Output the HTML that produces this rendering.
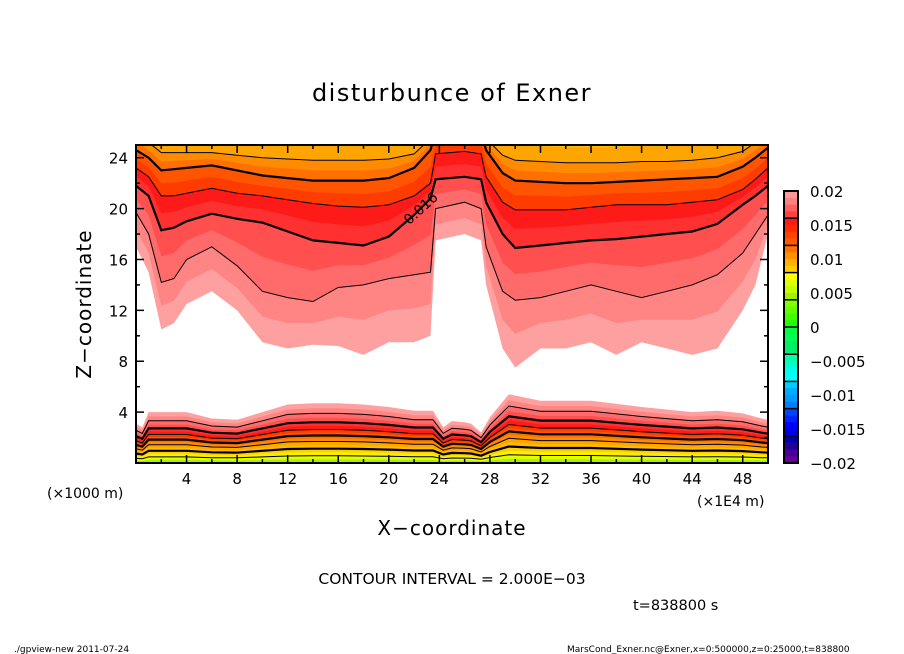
<!DOCTYPE html>
<html><head><meta charset="utf-8">
<style>
html,body{margin:0;padding:0;background:#fff;}
svg{display:block;font-family:"DejaVu Sans","Liberation Sans",sans-serif;}
</style></head>
<body>
<svg id="chart" width="904" height="654" viewBox="0 0 904 654">
<text x="452" y="101" text-anchor="middle" font-size="24" letter-spacing="1.5">disturbunce of Exner</text>
<g id="plot"></g>
<g id="axes"></g>
<g id="cbar"></g>
<text transform="translate(91,304) rotate(-90)" text-anchor="middle" font-size="20" letter-spacing="1">Z−coordinate</text>
<text x="452" y="535" text-anchor="middle" font-size="20" letter-spacing="1">X−coordinate</text>
<text x="47" y="498" font-size="14">(×1000 m)</text>
<text x="697" y="506" font-size="14">(×1E4 m)</text>
<text x="452" y="584" text-anchor="middle" font-size="15.5">CONTOUR INTERVAL = 2.000E−03</text>
<text x="633" y="610" font-size="14.5">t=838800 s</text>
<text x="14" y="652" font-size="9">./gpview-new   2011-07-24</text>
<text x="567" y="652" font-size="9">MarsCond_Exner.nc@Exner,x=0:500000,z=0:25000,t=838800</text>
</svg>
<script>
// ---- data (z in km, x in 1E4 m) ----
const xsTop = [0,1,2,3,4,6,8,10,12,14,16,18,20,22,23.3,23.7,26,27.3,27.7,29,30,32,34,36,38,40,42,44,46,48,49,50];
const c20 = [17,15,10.5,11,12.5,13.5,12,9.5,9,9.3,9.2,8.5,9.5,9.5,10,17.5,18,17.5,14,9,7.5,9,9,9.5,8.5,9.5,9,8.5,9,12,14,18];
const c18 = [19.7,18,14.2,14.5,16,17,15.5,13.5,13,12.7,13.8,14,14.5,14.8,15,20,20.5,20,17,13.5,12.8,13,13.5,14,13.5,13,13.5,14,14.8,16.5,18,19.5];
const c16 = [21.8,21,18.3,18.5,19,19.6,19.2,18.9,18.2,17.5,17.3,17.1,17.8,19.5,20.8,22.3,22.5,22.3,20.5,18,16.9,17.1,17.3,17.5,17.6,17.8,18,18.2,18.8,20.3,21,21.8];
const c14 = [23.2,22.5,21,21,21.2,21.6,21.2,21,20.7,20.4,20.2,20.1,20.3,21,22,24.3,24.5,24.3,22.5,20.5,19.9,19.9,19.9,20.1,20.3,20.3,20.3,20.5,20.7,21.5,22.3,23.2];
const c12 = [24.6,24,23,23.1,23.2,23.4,23,22.6,22.4,22.2,22.2,22.2,22.4,23.2,24.6,26,26,26,24.6,22.8,22.2,22.1,22,22,22.1,22.2,22.3,22.4,22.5,23.3,24,24.8];
const c10 = [26,25.2,24.4,24.4,24.4,24.4,24.2,24,23.9,23.8,23.8,23.8,23.9,24.3,25.5,26,26,26,25.5,24.2,23.8,23.7,23.6,23.6,23.6,23.7,23.7,23.8,24,24.5,25.2,26];
const xsBot = [0,0.5,1,2,4,6,8,10,12,14,16,18,20,22,23.5,24.3,25,26,26.5,27.3,28,29.5,32,36,40,44,46,48,49.5,50];
const b20 = [3.1,2.8,4.0,4.0,4.0,3.5,3.4,4.0,4.6,4.7,4.7,4.6,4.4,4.1,4.1,2.8,3.3,3.2,3.1,2.4,3.6,5.4,4.9,4.9,4.4,4.0,4.1,3.9,3.5,3.4];
const xTicks = [4,8,12,16,20,24,28,32,36,40,44,48];
const yTicks = [4,8,12,16,20,24];
const cbarLabels = ["0.02","0.015","0.01","0.005","0","−0.005","−0.01","−0.015","−0.02"];

const NS="http://www.w3.org/2000/svg";
const X0=136,X1=768,Y0=145,Y1=463;
const sx=v=>X0+v*(X1-X0)/50;
const sz=v=>Y1-v*(Y1-Y0)/25;
function mk(tag,attrs,parent){const e=document.createElementNS(NS,tag);for(const k in attrs)e.setAttribute(k,attrs[k]);parent.appendChild(e);return e;}
const plot=document.getElementById('plot');
const cp=mk('clipPath',{id:'clp'},plot);
mk('rect',{x:X0,y:Y0,width:X1-X0,height:Y1-Y0},cp);
const g=mk('g',{'clip-path':'url(#clp)'},plot);
mk('rect',{x:X0,y:Y0,width:X1-X0,height:Y1-Y0,fill:'#fff'},g);

function pts(xs,zs){return xs.map((x,i)=>sx(x).toFixed(1)+','+sz(zs[i]).toFixed(1));}
function mid(a,b){return a.map((v,i)=>(v+b[i])/2);}
const topLayers=[[c20,'#ffa0a0'],[mid(c20,c18),'#ff8585'],[c18,'#ff6b6b'],[mid(c18,c16),'#ff4f4f'],[c16,'#ff3030'],[mid(c16,c14),'#ff1a1a'],[c14,'#ff3c00'],[mid(c14,c12),'#ff5500'],[c12,'#ff7000'],[mid(c12,c10),'#ff8c00'],[c10,'#ffa500'],[c10.map(v=>v+1.2),'#ffbb00']];
topLayers.forEach(([c,col],i)=>{
  const p=mk('polygon',{points:pts(xsTop,c).join(' ')+` ${X1},${Y0-20} ${X0},${Y0-20}`,fill:col},g);
  
  
});
const botFrac=[1,.915,.83,.755,.68,.62,.56,.51,.46,.41,.36,.30,.24,.18,.12,.06];
const botCol=['#ffa0a0','#ff8585','#ff6b6b','#ff4f4f','#ff3030','#ff1a1a','#ff3c00','#ff5500','#ff7000','#ff8c00','#ffa500','#ffbb00','#ffd000','#ffee00','#e0ff00','#a8f000'];
botFrac.forEach((f,i)=>{
  const c=b20.map(v=>v*f);
  const p=mk('polygon',{points:pts(xsBot,c).join(' ')+` ${X1},${Y1+5} ${X0},${Y1+5}`,fill:botCol[i]},g);
  
  
});
[[c18,1],[c16,2.2],[c14,1],[c12,2.2],[c10,1]].forEach(([c,w],i)=>{
  const l=mk('polyline',{points:pts(xsTop,c).join(' '),fill:'none',stroke:'#000','stroke-width':w},g);
  
  
});
[[.83,1],[.68,2.2],[.56,1],[.46,2.2],[.36,1],[.24,2.2],[.12,1]].forEach(([f,w],i)=>{
  const l=mk('polyline',{points:pts(xsBot,b20.map(v=>v*f)).join(' '),fill:'none',stroke:'#000','stroke-width':w},g);
  
  
});
const lb=mk('text',{x:0,y:0,'font-size':14,transform:'translate(424,212) rotate(-42)','text-anchor':'middle'},plot);
lb.textContent='0.016';



const ax=document.getElementById('axes');
mk('rect',{x:X0,y:Y0,width:X1-X0,height:Y1-Y0,fill:'none',stroke:'#000','stroke-width':2},ax);
for(let v=2;v<50;v+=2){
  const L=(v%4===0)?8:4;
  mk('line',{x1:sx(v),x2:sx(v),y1:Y1,y2:Y1-L,stroke:'#000','stroke-width':1.5},ax);
  mk('line',{x1:sx(v),x2:sx(v),y1:Y0,y2:Y0+L,stroke:'#000','stroke-width':1.5},ax);
}
for(let v=2;v<25;v+=2){
  const L=(v%4===0)?8:4;
  mk('line',{x1:X0,x2:X0+L,y1:sz(v),y2:sz(v),stroke:'#000','stroke-width':1.5},ax);
  mk('line',{x1:X1,x2:X1-L,y1:sz(v),y2:sz(v),stroke:'#000','stroke-width':1.5},ax);
}
xTicks.forEach(v=>{
  const t=mk('text',{x:sx(v),y:484,'text-anchor':'middle','font-size':15},ax);
  t.textContent=v;
  
  
});
yTicks.forEach(v=>{
  const t=mk('text',{x:128,y:sz(v)+6,'text-anchor':'end','font-size':15},ax);
  t.textContent=v;
  
  
});

const cb=document.getElementById('cbar');
const cbCols=['#ff9999','#ff8080','#ff6060','#ff4040','#ff1a1a','#ff2a00','#ff4400','#ff5a00','#ff7000','#ff9000','#ffb000','#ffcc00','#ffff00','#ddff00','#c0ff00','#a0f000','#80ff00','#60ff00','#40ff00','#20ff00','#00ff40','#00ff50','#00f060','#00ee70','#00ffaa','#00ffcc','#00ffee','#00ffff','#00ccff','#00aaff','#0099ff','#0080ff','#0044ff','#0022ff','#0000ff','#0000dd','#0000aa','#220099','#440099','#660099'];
const CX=784,CW=14,CY0=191,CY1=463,ch=(CY1-CY0)/cbCols.length;
cbCols.forEach((c,i)=>{
  const r=mk('rect',{x:CX,y:CY0+i*ch,width:CW,height:ch+0.3,fill:c},cb);
  
  
});
for(let i=4;i<40;i+=4)mk('line',{x1:CX,x2:CX+CW,y1:CY0+i*ch,y2:CY0+i*ch,stroke:'#000','stroke-width':1.5},cb);
mk('rect',{x:CX,y:CY0,width:CW,height:CY1-CY0,fill:'none',stroke:'#000','stroke-width':2},cb);
cbarLabels.forEach((s,i)=>{
  const t=mk('text',{x:810,y:CY0+i*(CY1-CY0)/8+6,'font-size':15},cb);
  t.textContent=s;
  
  
});
</script>
</body></html>
